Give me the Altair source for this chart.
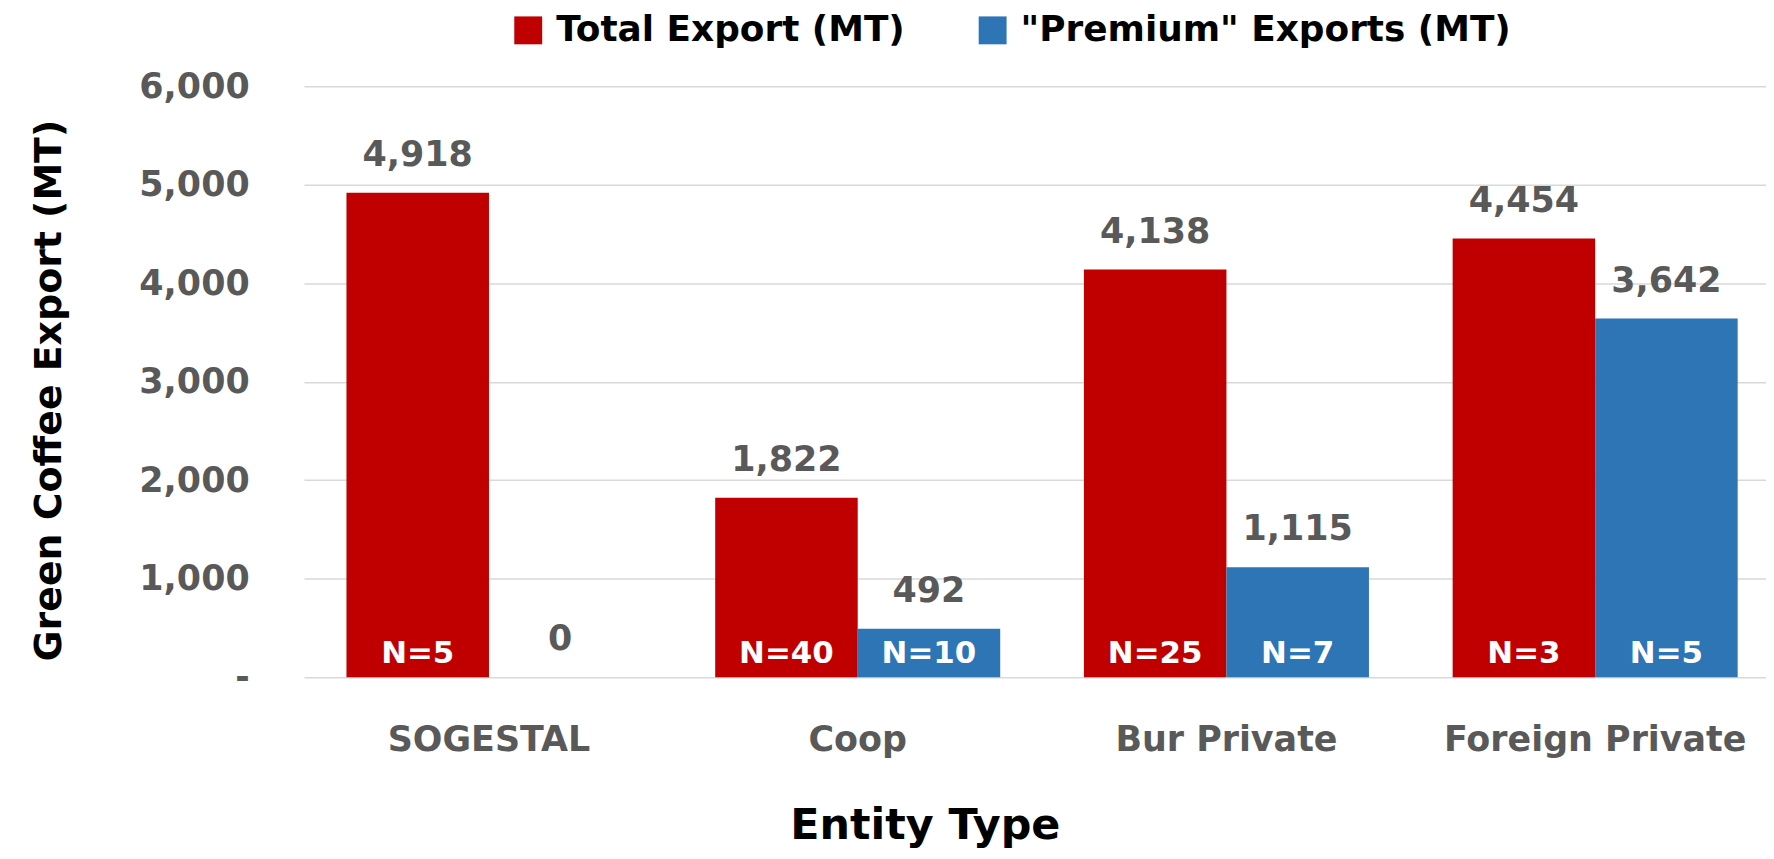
import altair as alt
import pandas as pd

entities = ["SOGESTAL", "Coop", "Bur Private", "Foreign Private"]
series_names = ["Total Export (MT)", "\"Premium\" Exports (MT)"]
total_export = [4918, 1822, 4138, 4454]
premium_export = [0, 492, 1115, 3642]
total_n = ["N=5", "N=40", "N=25", "N=3"]
premium_n = ["", "N=10", "N=7", "N=5"]
y_ticks = [0, 1000, 2000, 3000, 4000, 5000, 6000]
colors = ["#C00000", "#2E75B6"]

rows = []
for i, e in enumerate(entities):
    rows.append({"entity": e, "series": series_names[0], "value": total_export[i], "n": total_n[i]})
    rows.append({"entity": e, "series": series_names[1], "value": premium_export[i], "n": premium_n[i]})
df = pd.DataFrame(rows)

FONT = "DejaVu Sans"

x_enc = alt.X(
    "entity:N",
    sort=entities,
    scale=alt.Scale(paddingInner=0.227, paddingOuter=0.096, align=0.6, round=False),
    axis=alt.Axis(
        title="Entity Type",
        labelAngle=0,
        labelFont=FONT,
        labelFontWeight="bold",
        labelFontSize=35,
        labelColor="#595959",
        labelPadding=46,
        labelLimit=1000,
        ticks=False,
        domain=False,
        titleFont=FONT,
        titleFontWeight="bold",
        titleFontSize=43,
        titleColor="black",
        titleX=623,
        titleY=162,
        titleAlign="center",
        titleBaseline="alphabetic",
    ),
)
xoff_enc = alt.XOffset("series:N", sort=series_names, scale=alt.Scale(paddingInner=0, paddingOuter=0))

y_scale = alt.Scale(domain=[0, 6000])

base = alt.Chart(df)

bars = base.mark_bar().encode(
    x=x_enc,
    xOffset=xoff_enc,
    y=alt.Y(
        "value:Q",
        scale=y_scale,
        axis=alt.Axis(
            values=y_ticks,
            labelExpr="datum.value == 0 ? '-' : format(datum.value, ',')",
            labelFont=FONT,
            labelFontWeight="bold",
            labelFontSize=35,
            labelColor="#595959",
            labelPadding=55,
            ticks=False,
            domain=False,
            gridColor="#D9D9D9",
            gridWidth=1.5,
            title="Green Coffee Export (MT)",
            titleFont=FONT,
            titleFontWeight="bold",
            titleFontSize=38,
            titleColor="black",
            titleX=-255,
            titleY=305,
            titleAlign="center",
            titleBaseline="middle",
        ),
    ),
    color=alt.Color(
        "series:N",
        sort=series_names,
        scale=alt.Scale(domain=series_names, range=colors),
        legend=alt.Legend(
            title=None,
            orient="none",
            legendX=207,
            legendY=-74,
            direction="horizontal",
            symbolType="square",
            symbolSize=784,
            symbolStrokeWidth=0,
            labelFont=FONT,
            labelFontWeight="bold",
            labelFontSize=36,
            labelColor="black",
            labelOffset=10,
            labelLimit=1000,
            columnPadding=70,
        ),
    ),
)

value_labels = base.mark_text(
    font=FONT, fontWeight="bold", fontSize=35, color="#595959", baseline="alphabetic", dy=-27
).encode(
    x=alt.X("entity:N", sort=entities),
    xOffset=alt.XOffset("series:N", sort=series_names),
    y=alt.Y("value:Q", scale=y_scale),
    text=alt.Text("value:Q", format=","),
)

n_labels = base.mark_text(
    font=FONT, fontWeight="bold", fontSize=31, color="white", baseline="alphabetic", dy=-14
).encode(
    x=alt.X("entity:N", sort=entities),
    xOffset=alt.XOffset("series:N", sort=series_names),
    y=alt.Y(datum=0, type="quantitative", scale=y_scale),
    text="n:N",
)

chart = (
    alt.layer(bars, value_labels, n_labels)
    .properties(
        width=1467,
        height=593,
        autosize=alt.AutoSizeParams(type="none"),
        padding={"left": 297, "top": 77, "right": 0, "bottom": 176},
        background="white",
    )
    .configure_view(stroke=None)
)

chart.save("out.html", embed_options={"renderer": "svg", "actions": False})
